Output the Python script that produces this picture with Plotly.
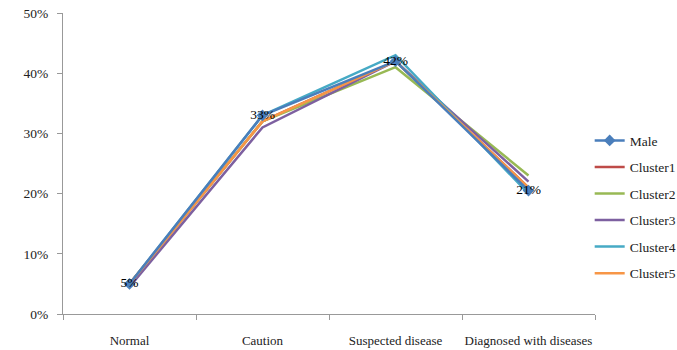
import plotly.graph_objects as go

categories = ["Normal", "Caution", "Suspected disease", "Diagnosed with diseases"]
male = [0.05, 0.33, 0.42, 0.205]
cluster1 = [0.05, 0.32, 0.42, 0.21]
cluster2 = [0.05, 0.32, 0.41, 0.23]
cluster3 = [0.045, 0.31, 0.42, 0.22]
cluster4 = [0.05, 0.33, 0.43, 0.20]
cluster5 = [0.05, 0.32, 0.42, 0.21]
male_labels = ["5%", "33%", "42%", "21%"]

series = [
    ("Cluster1", cluster1, "#BE4B48"),
    ("Cluster2", cluster2, "#98B954"),
    ("Cluster3", cluster3, "#7D60A0"),
    ("Cluster4", cluster4, "#46AAC5"),
    ("Cluster5", cluster5, "#F79646"),
]

font = "Liberation Serif, Times New Roman, serif"
fs = 13.5
fig = go.Figure()
for i, (name, vals, col) in enumerate(series):
    fig.add_trace(go.Scatter(x=categories, y=vals, name=name, mode="lines",
                             line=dict(color=col, width=2.5), legendrank=i + 2,
                             legendgroup=name))
fig.add_trace(go.Scatter(x=categories, y=male, name="Male", mode="lines+markers+text",
                         line=dict(color="#4A7EBB", width=2.5),
                         marker=dict(symbol="diamond", size=9, color="#4A7EBB"),
                         text=male_labels, textposition="middle center",
                         textfont=dict(family=font, size=fs, color="#000000"),
                         legendrank=1, legendgroup="Male"))

fig.update_layout(
    width=677, height=350,
    margin=dict(l=63, r=82, t=13, b=36, autoexpand=False),
    plot_bgcolor="white", paper_bgcolor="white",
    font=dict(family=font, size=fs, color="#222222"),
    showlegend=True,
    legend=dict(x=0.99, y=0.355, xanchor="left", yanchor="middle",
                tracegroupgap=6, itemwidth=30,
                font=dict(family=font, size=fs, color="#222222")),
    xaxis=dict(range=[-0.5, 3.5], showline=True, linecolor="#999999", linewidth=1,
               ticks="outside", ticklen=5, tickcolor="#999999", automargin=False,
               tickangle=0, tickfont=dict(size=13),
               tickson="boundaries", showgrid=False, ticklabelstandoff=14),
    yaxis=dict(range=[0, 0.5], dtick=0.1, tickformat=".0%", automargin=False,
               showline=True, linecolor="#999999", linewidth=1,
               ticks="outside", ticklen=5, tickcolor="#999999",
               showgrid=False, zeroline=False, ticklabelstandoff=6),
)
fig.write_html("out.html")
